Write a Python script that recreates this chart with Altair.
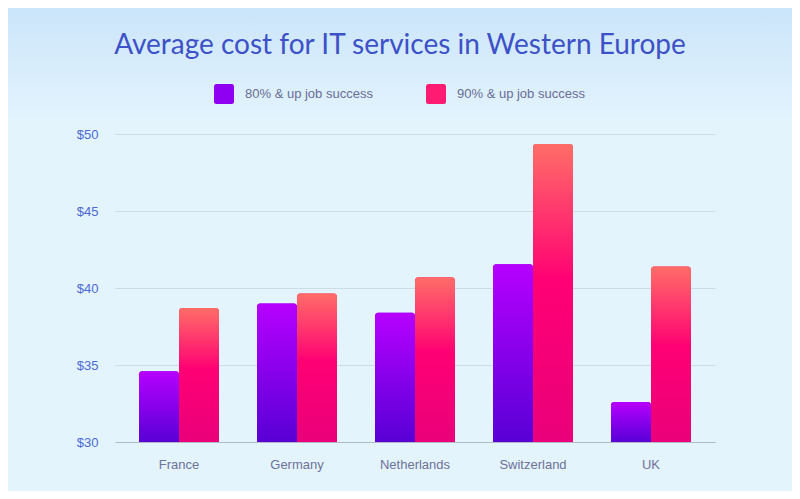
import altair as alt
import pandas as pd

countries = ["France", "Germany", "Netherlands", "Switzerland", "UK"]
series_names = ["80% & up job success", "90% & up job success"]
cost_80 = [34.6, 39.0, 38.4, 41.55, 32.6]
cost_90 = [38.7, 39.65, 40.7, 49.35, 41.4]
y_ticks = [30, 35, 40, 45, 50]

rows = []
for c, a, b in zip(countries, cost_80, cost_90):
    rows.append({"country": c, "series": series_names[0], "cost": a})
    rows.append({"country": c, "series": series_names[1], "cost": b})
df = pd.DataFrame(rows)

purple_stops = [{"offset": 0, "color": "#B600FF"}, {"offset": 1, "color": "#5800D5"}]
pink_stops = [{"offset": 0, "color": "#FF6D68"}, {"offset": 0.42, "color": "#FF0A72"},
              {"offset": 0.45, "color": "#FF0074"}, {"offset": 1, "color": "#E9007A"}]

def grad(stops):
    return alt.LinearGradient(
        gradient="linear", x1=0, x2=0, y1=0, y2=1,
        stops=[alt.GradientStop(offset=s["offset"], color=s["color"]) for s in stops])

grad_bg = grad([{"offset": 0, "color": "#CBE5FA"}, {"offset": 1, "color": "#E3F4FD"}])

rounded_square = ("M -0.75 -1 L 0.75 -1 Q 1 -1 1 -0.75 L 1 0.75 Q 1 1 0.75 1 "
                  "L -0.75 1 Q -1 1 -1 0.75 L -1 -0.75 Q -1 -1 -0.75 -1 Z")

x_enc = alt.X("country:N", sort=countries, title=None,
              scale=alt.Scale(paddingInner=0.322, paddingOuter=0.2034),
              axis=alt.Axis(labelFont="Liberation Sans", labelFontSize=13,
                            labelColor="#707298", labelPadding=16, ticks=False,
                            domainColor="#B3B9C4", domainWidth=1, labelAngle=0,
                            grid=False))
xo_enc = alt.XOffset("series:N", sort=series_names)
y_enc = alt.Y("cost:Q", title=None,
              scale=alt.Scale(domain=[30, 50], zero=False, nice=False),
              axis=alt.Axis(values=y_ticks, labelExpr="'$' + datum.value",
                            labelFont="Liberation Sans", labelFontSize=13,
                            labelColor="#4C6AD6", labelPadding=17, ticks=False,
                            domain=False, gridColor="#CBDCE7", gridWidth=1))

base = alt.Chart(df)

legend = alt.Legend(
    orient="none", legendX=99, legendY=-50, direction="horizontal", title=None,
    symbolType=rounded_square, symbolSize=400, symbolStrokeWidth=0,
    labelFont="Liberation Sans", labelFontSize=13, labelColor="#6B6D95",
    labelOffset=11, columnPadding=53, padding=0,
)

bars = base.mark_bar(cornerRadiusTopLeft=3, cornerRadiusTopRight=3).encode(
    x=x_enc, xOffset=xo_enc, y=y_enc, y2=alt.datum(30),
    color=alt.Color("series:N", sort=series_names,
                    scale=alt.Scale(domain=series_names, range=["#8F00F2", "#FF1A72"]),
                    legend=legend),
)

over_80 = base.transform_filter(alt.datum.series == series_names[0]).mark_bar(
    fill=grad(purple_stops), cornerRadiusTopLeft=3, cornerRadiusTopRight=3).encode(
    x=x_enc, xOffset=xo_enc, y=y_enc, y2=alt.datum(30))
over_90 = base.transform_filter(alt.datum.series == series_names[1]).mark_bar(
    fill=grad(pink_stops), cornerRadiusTopLeft=3, cornerRadiusTopRight=3).encode(
    x=x_enc, xOffset=xo_enc, y=y_enc, y2=alt.datum(30))

bg = alt.Chart(pd.DataFrame({"k": [0]})).mark_rect(fill=grad_bg, clip=False).encode(
    x=alt.value(-107), x2=alt.value(693), y=alt.value(-126), y2=alt.value(-10))

chart = alt.layer(bg, bars, over_80, over_90).properties(
    width=600, height=308,
    title=alt.Title("Average cost for IT services in Western Europe",
                    font="Lato", fontSize=28, fontWeight="normal",
                    color="#3D51C8", anchor="middle", dx=-15, offset=-74,
                    baseline="alphabetic"),
    autosize=alt.AutoSizeParams(type="none"),
    padding={"left": 107, "top": 126, "right": 77, "bottom": 49},
).configure(background="#E3F4FD").configure_view(stroke=None)

chart.save("out.html", embed_options={"renderer": "svg", "actions": False})
